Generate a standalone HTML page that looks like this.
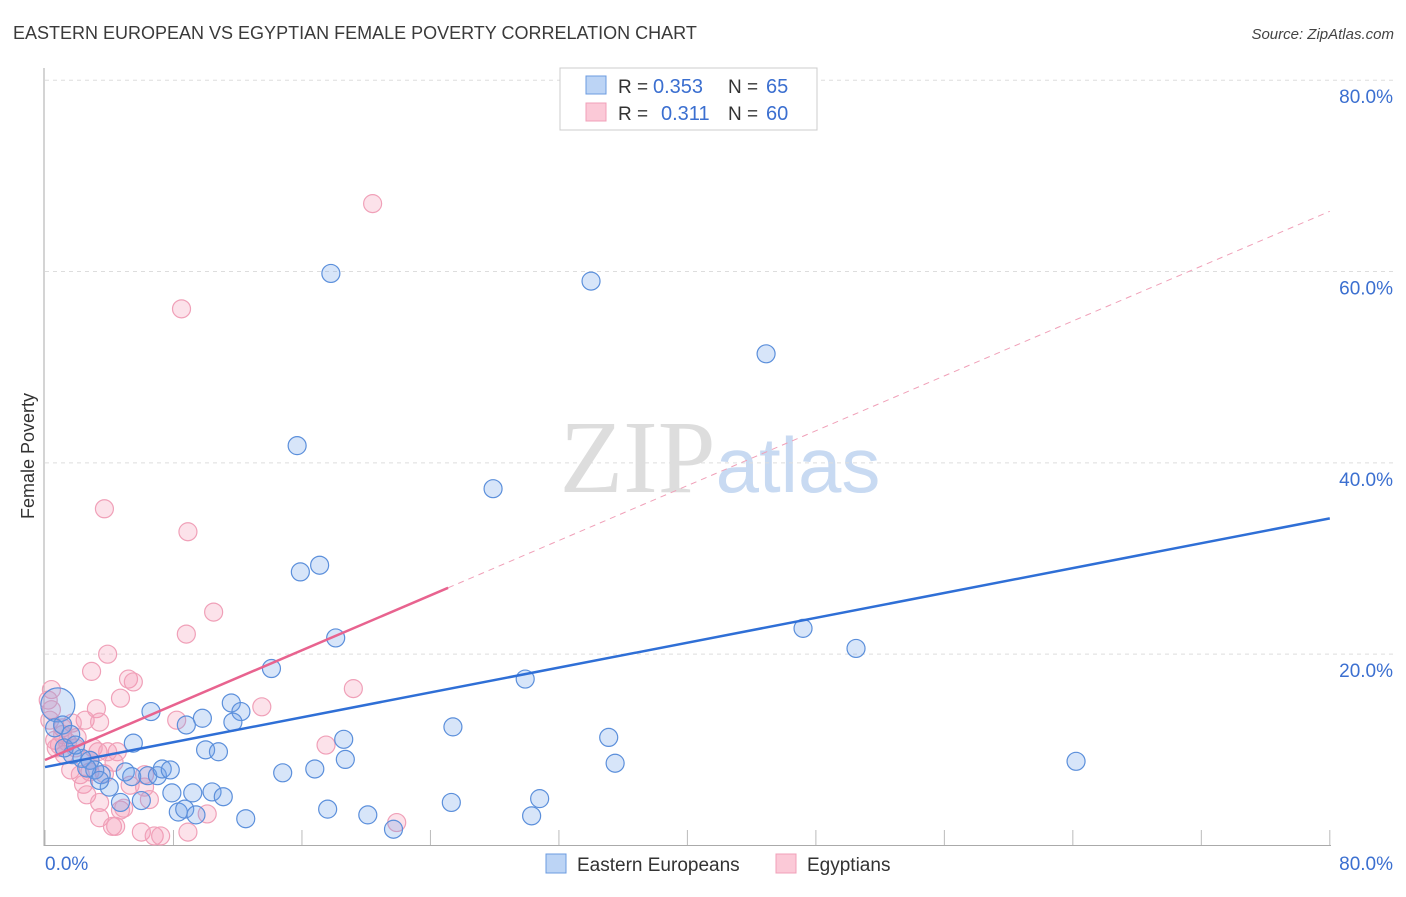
<!DOCTYPE html>
<html><head><meta charset="utf-8"><style>
body{margin:0;background:#fff;font-family:"Liberation Sans",sans-serif}
</style></head><body>
<svg id="chart" width="1406" height="892" xmlns="http://www.w3.org/2000/svg" font-family="Liberation Sans, sans-serif">
<text x="13" y="39" font-size="18" fill="#3a3a3a">EASTERN EUROPEAN VS EGYPTIAN FEMALE POVERTY CORRELATION CHART</text>
<text x="1394" y="39" font-size="15" fill="#444" text-anchor="end" font-style="italic">Source: ZipAtlas.com</text>
<text x="720" y="492" font-size="104" text-anchor="middle" fill="#ddd" font-family="Liberation Serif, serif">ZIP<tspan fill="#c8daf2" font-family="Liberation Sans, sans-serif" font-size="78">atlas</tspan></text>
<text transform="translate(34,456) rotate(-90)" font-size="18" fill="#333" text-anchor="middle">Female Poverty</text>
<g id="grid"></g><g id="pts"></g><g id="lines"></g>
<g>
<rect x="560" y="68" width="257" height="62" fill="#fff" stroke="#ccc"/>
<rect x="586" y="76" width="20" height="18" fill="#bcd4f5" stroke="#6b9be0"/>
<rect x="586" y="103" width="20" height="18" fill="#fbc9d7" stroke="#f0a0b8"/>
<text x="618" y="93" font-size="19" fill="#333">R =</text>
<text x="653" y="93" font-size="20" fill="#3b6fd0">0.353</text>
<text x="728" y="93" font-size="19" fill="#333">N =</text>
<text x="766" y="93" font-size="20" fill="#3b6fd0">65</text>
<text x="618" y="120" font-size="19" fill="#333">R =</text>
<text x="661" y="120" font-size="20" fill="#3b6fd0">0.311</text>
<text x="728" y="120" font-size="19" fill="#333">N =</text>
<text x="766" y="120" font-size="20" fill="#3b6fd0">60</text>
</g>
<g>
<rect x="546" y="854" width="20" height="19" fill="#bcd4f5" stroke="#6b9be0"/>
<text x="577" y="871" font-size="19" fill="#333">Eastern Europeans</text>
<rect x="776" y="854" width="20" height="19" fill="#fbc9d7" stroke="#f0a0b8"/>
<text x="807" y="871" font-size="19" fill="#333">Egyptians</text>
</g>
</svg>
<script>
const yTicks=[20,40,60,80];
const yTickLabels=["20.0%","40.0%","60.0%","80.0%"];
const xTicks=[0,8,16,24,32,40,48,56,64,72,80];
const blueX=[17.8,34.0,44.9,15.7,27.9,15.9,17.1,18.1,47.2,50.5,14.1,29.9,6.6,11.6,9.8,12.2,11.7,8.8,5.5,10.0,10.8,18.6,25.4,35.1,35.5,18.7,16.8,14.8,64.2,5.0,3.5,5.4,6.4,7.0,7.3,7.8,4.0,4.7,6.0,7.9,9.2,10.4,11.1,8.3,8.7,9.4,12.5,17.6,20.1,25.3,30.8,30.3,21.7,0.8,0.6,1.1,1.6,1.7,2.3,2.8,3.1,1.2,3.4,2.6,1.9];
const blueY=[59.8,59.0,51.4,41.8,37.3,28.6,29.3,21.7,22.7,20.6,18.5,17.4,14.0,14.9,13.3,14.0,12.9,12.6,10.7,10.0,9.8,11.1,12.4,11.3,8.6,9.0,8.0,7.6,8.8,7.7,7.4,7.2,7.3,7.3,8.0,7.9,6.1,4.5,4.7,5.5,5.5,5.6,5.1,3.5,3.8,3.2,2.8,3.8,3.2,4.5,4.9,3.1,1.7,14.7,12.3,12.6,11.6,9.5,9.1,8.9,7.9,10.2,6.8,8.1,10.5];
const pinkX=[20.4,8.5,3.7,8.9,10.5,8.8,3.9,2.9,5.2,5.5,4.7,13.5,19.2,8.2,3.2,2.5,3.4,1.7,1.1,0.6,0.4,0.3,0.9,1.2,1.9,2.8,3.3,4.5,4.3,1.6,2.2,2.8,3.7,2.4,2.6,3.4,4.7,6.2,6.2,17.5,4.9,3.4,4.2,4.4,6.0,6.8,7.2,8.9,10.1,21.9,0.4,0.2,1.1,3.9,0.7,2.0,1.4,3.0,5.3,6.5];
const pinkY=[67.1,56.1,35.2,32.8,24.4,22.1,20.0,18.2,17.4,17.1,15.4,14.5,16.4,13.1,14.3,13.1,12.9,12.8,12.3,11.0,14.2,13.1,10.5,9.5,10.2,8.9,9.8,9.8,8.7,7.9,7.4,7.7,7.5,6.4,5.3,4.5,3.7,7.4,6.1,10.5,3.9,2.9,2.0,2.0,1.4,1.0,1.0,1.4,3.3,2.4,16.3,15.2,11.6,9.8,10.2,11.3,10.8,10.2,6.3,4.8];
const blueLine=[8.2,34.2];
const pinkLine=[8.94,66.3];
const pinkSolidEnd=25.1;
const X=v=>45+v*16.06, Y=v=>845.5-v*9.566;
const NS="http://www.w3.org/2000/svg";
function mk(t,a,p){const e=document.createElementNS(NS,t);for(const k in a)e.setAttribute(k,a[k]);p.appendChild(e);return e;}
const g=document.getElementById('grid');
yTicks.forEach((t,i)=>{
 const l=mk('line',{x1:45,x2:1395,y1:Y(t),y2:Y(t),stroke:'#ddd','stroke-dasharray':'4,4'},g);
 
 
 const tx=mk('text',{x:1393,y:Y(t)+23,'font-size':19,fill:'#3b6fd0','text-anchor':'end'},g);tx.textContent=yTickLabels[i];
 
 
});
mk('line',{x1:44,x2:44,y1:68,y2:846,stroke:'#aaa'},g);
mk('line',{x1:44,x2:1331,y1:845.5,y2:845.5,stroke:'#aaa'},g);
xTicks.forEach(t=>{const l=mk('line',{x1:X(t),x2:X(t),y1:830,y2:845,stroke:'#bbb'},g);
 
 });
let t0=mk('text',{x:45,y:870,'font-size':19,fill:'#3b6fd0'},g);t0.textContent='0.0%';


let t1=mk('text',{x:1393,y:870,'font-size':19,fill:'#3b6fd0','text-anchor':'end'},g);t1.textContent='80.0%';


const p=document.getElementById('pts');
pinkX.forEach((x,i)=>{const c=mk('circle',{cx:X(x),cy:Y(pinkY[i]),r:9,fill:'rgba(245,150,180,0.28)',stroke:'#f0a0b8','stroke-width':1.2},p);
 
 });
blueX.forEach((x,i)=>{const c=mk('circle',{cx:X(x),cy:Y(blueY[i]),r:i==53?17:9,fill:'rgba(110,160,235,0.28)',stroke:'#5b8fdb','stroke-width':1.2},p);
 
 });
const L=document.getElementById('lines');
const bl=mk('line',{x1:X(0),y1:Y(blueLine[0]),x2:X(80),y2:Y(blueLine[1]),stroke:'#2f6fd6','stroke-width':2.5},L);


const pk=v=>pinkLine[0]+(pinkLine[1]-pinkLine[0])*v/80;
const pd=mk('line',{x1:X(pinkSolidEnd),y1:Y(pk(pinkSolidEnd)),x2:X(80),y2:Y(pinkLine[1]),stroke:'#f0a0b8','stroke-width':1,'stroke-dasharray':'6,5'},L);


const ps=mk('line',{x1:X(0),y1:Y(pinkLine[0]),x2:X(pinkSolidEnd),y2:Y(pk(pinkSolidEnd)),stroke:'#e8638f','stroke-width':2.5},L);


</script>
</body></html>
